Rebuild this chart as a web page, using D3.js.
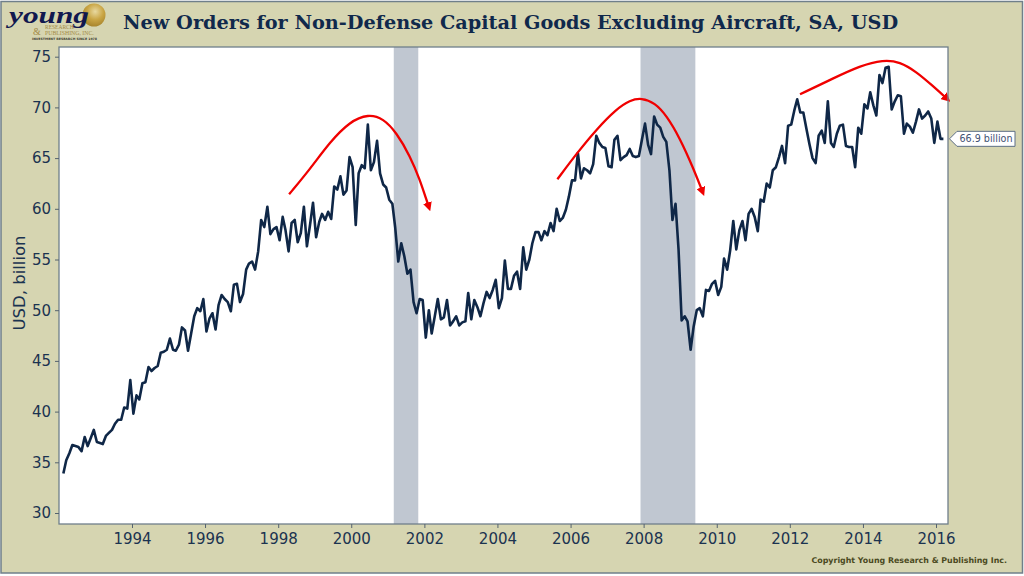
<!DOCTYPE html>
<html>
<head>
<meta charset="utf-8">
<script src="https://cdn.jsdelivr.net/npm/d3@7"></script>
<style>
  html, body { margin: 0; padding: 0; background: #fff; }
  svg { display: block; }
</style>
</head>
<body>
<div id="chart"></div>
<script>
// monthly new orders, USD billion, from Feb 1992
const orders = [
  33.9, 35.2, 35.9, 36.7, 36.6, 36.5, 36.1, 37.5, 36.6, 37.4, 38.2, 37.0,
  36.9, 36.8, 37.6, 37.9, 38.2, 38.8, 39.2, 39.2, 40.4, 40.3, 43.1, 39.8,
  41.6, 41.2, 42.8, 42.9, 44.4, 44.0, 44.3, 44.5, 45.8, 45.9, 46.1, 47.2,
  46.1, 46.0, 46.6, 48.3, 48.0, 46.0, 47.7, 49.4, 50.2, 49.9, 51.1, 47.9,
  49.2, 49.7, 48.1, 50.5, 51.5, 51.1, 50.8, 49.9, 52.5, 52.6, 50.8, 51.6,
  54.0, 54.6, 54.8, 54.0, 55.8, 58.9, 58.2, 60.2, 57.5, 58.0, 58.2, 56.9,
  59.2, 57.9, 55.8, 58.6, 58.9, 56.7, 57.6, 60.2, 56.3, 58.4, 60.6, 57.2,
  58.7, 59.5, 58.9, 59.7, 59.0, 62.2, 61.9, 63.2, 61.4, 61.8, 65.1, 64.1,
  58.4, 63.5, 64.3, 64.0, 68.3, 63.8, 64.6, 66.7, 63.5, 62.4, 62.1, 60.9,
  60.5, 58.2, 54.8, 56.6, 55.3, 53.6, 54.0, 50.8, 49.7, 51.1, 51.0, 47.3,
  50.0, 47.7, 49.4, 51.1, 49.1, 49.3, 51.0, 48.5, 48.9, 49.4, 48.5, 48.8,
  48.9, 51.7, 49.1, 51.0, 50.3, 49.4, 50.7, 51.8, 51.2, 52.0, 53.0, 50.2,
  51.2, 54.9, 52.1, 52.1, 53.4, 53.8, 52.1, 56.2, 54.0, 55.0, 56.6, 57.7,
  57.7, 56.9, 57.8, 57.4, 58.6, 57.8, 60.0, 58.8, 59.1, 59.9, 61.2, 62.8,
  62.8, 65.5, 63.0, 64.0, 63.8, 63.5, 64.4, 67.2, 66.5, 66.1, 66.0, 64.2,
  64.1, 66.8, 67.2, 64.8, 65.1, 65.3, 65.9, 65.2, 65.1, 65.2, 66.8, 68.4,
  66.3, 65.4, 69.1, 68.3, 68.0, 67.1, 66.6, 63.8, 58.9, 60.5, 56.0, 49.0,
  49.4, 48.9, 46.1, 48.4, 50.0, 50.2, 49.4, 52.0, 51.9, 52.6, 52.9, 51.5,
  52.3, 55.1, 54.0, 55.9, 58.8, 56.0, 57.9, 58.8, 56.9, 59.5, 60.0, 59.2,
  57.8, 60.9, 60.7, 62.5, 62.1, 63.8, 64.1, 65.1, 66.2, 64.5, 68.2, 68.3,
  69.7, 70.8, 69.5, 69.5, 67.9, 66.4, 65.0, 64.5, 67.2, 67.7, 66.5, 70.6,
  66.5, 66.1, 67.4, 68.2, 68.3, 66.2, 66.1, 66.1, 64.1, 68.0, 67.4, 70.3,
  69.9, 71.5, 70.2, 69.2, 73.2, 72.4, 73.9, 74.0, 69.8, 70.6, 71.2, 71.1,
  67.4, 68.4, 68.1, 67.5, 68.6, 69.8, 68.9, 69.2, 69.6, 68.9, 66.5, 68.6,
  66.9, 66.9
];

const yTicks = [30, 35, 40, 45, 50, 55, 60, 65, 70, 75];
const xTickYears = [1994, 1996, 1998, 2000, 2002, 2004, 2006, 2008, 2010, 2012, 2014, 2016];

// recessions: [start year, start month, end year, end month]
const recessions = [
  [2001, 2, 2001, 10],
  [2007, 11, 2009, 5]
];

// hand drawn red arrows, [decimal year, value]
const arrows = [
  [[1998.30, 61.43], [1998.87, 63.9], [1999.42, 66.6], [1999.96, 68.6], [2000.47, 69.35], [2000.88, 68.9],
   [2001.24, 67.5], [2001.61, 65.2], [2001.88, 62.84], [2002.06, 60.87], [2002.13, 60.1]],
  [[2005.64, 62.91], [2006.17, 65.47], [2006.71, 67.84], [2007.26, 69.85], [2007.63, 70.7], [2007.94, 70.95],
   [2008.31, 70.45], [2008.63, 69.2], [2008.99, 67.0], [2009.36, 63.99], [2009.62, 61.6]],
  [[2012.28, 71.29], [2013.19, 72.87], [2013.92, 74.1], [2014.56, 74.7], [2015.01, 74.5], [2015.47, 73.5],
   [2015.92, 72.1], [2016.32, 70.8]]
];

const lastLabel = "66.9 billion";

const width = 1024, height = 576;
const plot = { left: 59, right: 948, top: 47, bottom: 524 };

const svg = d3.select("#chart").append("svg")
  .attr("width", width)
  .attr("height", height);

const defs = svg.append("defs");
const globe = defs.append("radialGradient").attr("id", "globe")
  .attr("cx", "55%").attr("cy", "35%").attr("r", "65%");
globe.append("stop").attr("offset", "0%").attr("stop-color", "#e8d9a0");
globe.append("stop").attr("offset", "55%").attr("stop-color", "#c9a544");
globe.append("stop").attr("offset", "100%").attr("stop-color", "#a8852c");

defs.append("marker").attr("id", "arrowhead")
  .attr("viewBox", "0 0 10 10").attr("refX", 6).attr("refY", 5)
  .attr("markerWidth", 9).attr("markerHeight", 9)
  .attr("markerUnits", "userSpaceOnUse")
  .attr("orient", "auto")
  .append("path").attr("d", "M0,0L10,5L0,10Z").attr("fill", "#f00000");

// background frame
svg.append("rect")
  .attr("x", 1).attr("y", 1.5)
  .attr("width", 1021.5).attr("height", 571.5)
  .attr("fill", "#d6d5b1")
  .attr("stroke", "#6f7f8a")
  .attr("stroke-width", 1.5);

// scales
const x = d3.scaleTime()
  .domain([new Date(1994, 0, 1), new Date(2016, 0, 1)])
  .range([132, 936]);
const y = d3.scaleLinear().domain([30, 75]).range([513, 56.7]);

const yearToDate = (v) => {
  const yr = Math.floor(v);
  return new Date(yr, 0, 1 + (v - yr) * 365);
};

const dates = orders.map((d, i) => new Date(1992, 1 + i, 15));

// plot area
svg.append("rect")
  .attr("x", plot.left).attr("y", plot.top)
  .attr("width", plot.right - plot.left).attr("height", plot.bottom - plot.top)
  .attr("fill", "#fff");

// recession bars
svg.append("g")
  .selectAll("rect")
  .data(recessions)
  .join("rect")
  .attr("x", (d) => x(new Date(d[0], d[1], 1)))
  .attr("y", plot.top)
  .attr("width", (d) => x(new Date(d[2], d[3], 1)) - x(new Date(d[0], d[1], 1)))
  .attr("height", plot.bottom - plot.top)
  .attr("fill", "#c0c7d1");

// main line
const line = d3.line()
  .x((d, i) => x(dates[i]))
  .y((d) => y(d));

svg.append("path")
  .datum(orders)
  .attr("d", line)
  .attr("fill", "none")
  .attr("stroke", "#0f2747")
  .attr("stroke-width", 2.6)
  .attr("stroke-linejoin", "round");

// red arrows
const arrowLine = d3.line()
  .x((d) => x(yearToDate(d[0])))
  .y((d) => y(d[1]))
  .curve(d3.curveBasis);

svg.append("g")
  .selectAll("path")
  .data(arrows)
  .join("path")
  .attr("d", arrowLine)
  .attr("fill", "none")
  .attr("stroke", "#f00000")
  .attr("stroke-width", 2.3)
  .attr("marker-end", "url(#arrowhead)");

// plot border
svg.append("rect")
  .attr("x", plot.left).attr("y", plot.top)
  .attr("width", plot.right - plot.left).attr("height", plot.bottom - plot.top)
  .attr("fill", "none")
  .attr("stroke", "#6f7f8a")
  .attr("stroke-width", 1.3);

// axes
const axisFont = "'DejaVu Sans', sans-serif";

const yAxis = svg.append("g")
  .attr("transform", `translate(${plot.left},0)`)
  .call(d3.axisLeft(y).tickValues(yTicks).tickSize(4).tickPadding(4));
const xAxis = svg.append("g")
  .attr("transform", `translate(0,${plot.bottom})`)
  .call(d3.axisBottom(x)
    .tickValues(xTickYears.map((d) => new Date(d, 0, 1)))
    .tickFormat(d3.timeFormat("%Y"))
    .tickSize(4).tickPadding(5));

[yAxis, xAxis].forEach((a) => {
  a.select(".domain").remove();
  a.selectAll("line").attr("stroke", "#55636f");
  a.selectAll("text")
    .attr("font-family", axisFont)
    .attr("font-size", 15)
    .attr("fill", "#1b3350");
});

svg.append("text")
  .attr("transform", "translate(25,283) rotate(-90)")
  .attr("text-anchor", "middle")
  .attr("font-family", axisFont)
  .attr("font-size", 16.5)
  .attr("fill", "#1b3350")
  .text("USD, billion");

// title
svg.append("text")
  .attr("x", 123).attr("y", 29)
  .attr("font-family", "'DejaVu Serif', serif")
  .attr("font-weight", "bold")
  .attr("font-size", 19.25)
  .attr("fill", "#10294c")
  .text("New Orders for Non-Defense Capital Goods Excluding Aircraft, SA, USD");

// copyright
svg.append("text")
  .attr("x", 1007).attr("y", 563)
  .attr("text-anchor", "end")
  .attr("font-family", axisFont)
  .attr("font-weight", "bold")
  .attr("font-size", 7.9)
  .attr("fill", "#4b4a22")
  .text("Copyright Young Research & Publishing Inc.");

// last value callout
const lastY = y(orders[orders.length - 1]);
const callout = svg.append("g").attr("transform", `translate(${plot.right + 1},${lastY})`);
callout.append("path")
  .attr("d", "M0.5,0L8,-7.5H66V7.5H8Z")
  .attr("fill", "#fff")
  .attr("stroke", "#5d6f86")
  .attr("stroke-width", 1);
callout.append("text")
  .attr("x", 37).attr("y", 3.5)
  .attr("text-anchor", "middle")
  .attr("font-family", axisFont)
  .attr("font-size", 9.6)
  .attr("fill", "#3f5273")
  .text(lastLabel);

// logo
const logoSerif = "'Liberation Serif', serif";
const logo = svg.append("g");
logo.append("circle")
  .attr("cx", 94).attr("cy", 15).attr("r", 11.5)
  .attr("fill", "url(#globe)");
logo.append("text")
  .attr("x", 9).attr("y", 23)
  .attr("font-family", logoSerif)
  .attr("font-style", "italic")
  .attr("font-weight", "bold")
  .attr("font-size", 23)
  .attr("textLength", 80)
  .attr("lengthAdjust", "spacingAndGlyphs")
  .attr("fill", "#11184f")
  .text("young");
logo.append("text")
  .attr("x", 45).attr("y", 29)
  .attr("font-family", logoSerif)
  .attr("font-size", 5.5)
  .attr("fill", "#a38a45")
  .text("RESEARCH");
logo.append("text")
  .attr("x", 33).attr("y", 35)
  .attr("font-family", logoSerif)
  .attr("font-size", 10)
  .attr("fill", "#a38a45")
  .text("&");
logo.append("text")
  .attr("x", 45).attr("y", 35)
  .attr("font-family", logoSerif)
  .attr("font-size", 5.8)
  .attr("fill", "#a38a45")
  .text("PUBLISHING, INC.");
logo.append("text")
  .attr("x", 32).attr("y", 40)
  .attr("font-family", axisFont)
  .attr("font-weight", "bold")
  .attr("font-size", 3.2)
  .attr("fill", "#3c3c30")
  .text("INVESTMENT RESEARCH SINCE 1978");
</script>
</body>
</html>
